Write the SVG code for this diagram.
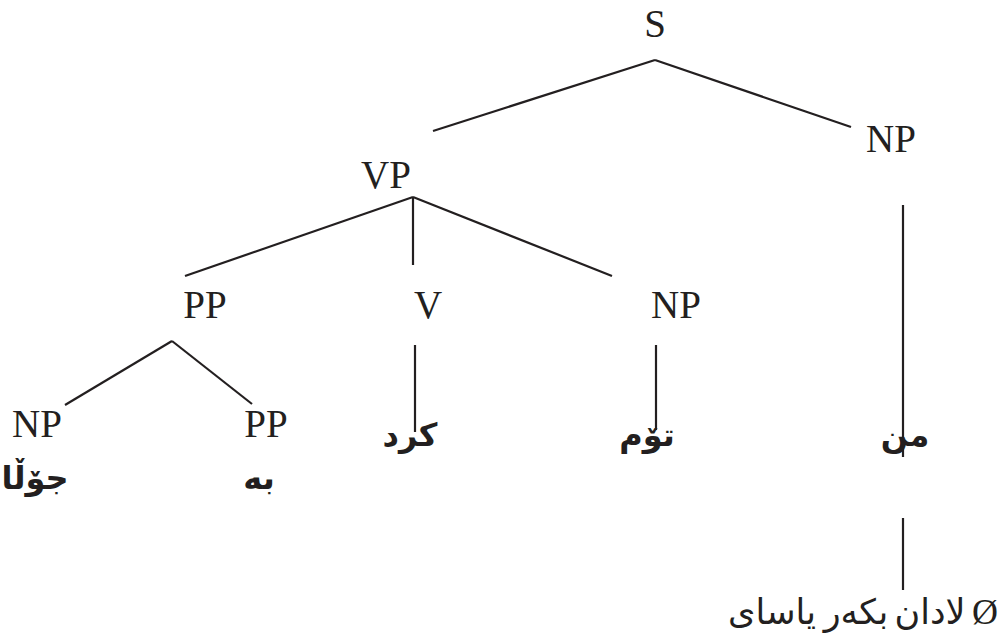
<svg xmlns="http://www.w3.org/2000/svg" width="1006" height="636" viewBox="0 0 1006 636">
<style>
.lbl{font-family:"Liberation Serif","Times New Roman",serif;font-size:39px;fill:#231f20;text-anchor:middle}
.ku{font-family:"DejaVu Sans","Noto Sans",sans-serif;font-weight:bold;font-size:32px;fill:#231f20;text-anchor:middle}
.kb{font-family:"DejaVu Sans","Noto Sans",sans-serif;font-size:35px;fill:#231f20;text-anchor:middle}
.lat{font-family:"Liberation Serif","Times New Roman",serif;font-size:36px;fill:#231f20;text-anchor:middle}
.e{stroke:#231f20;stroke-width:2.2;fill:none;stroke-linecap:butt}
</style>
<rect width="1006" height="636" fill="#ffffff"/>
<g id="edges">
<line class="e" x1="655" y1="60" x2="433" y2="131"/>
<line class="e" x1="655" y1="60" x2="851" y2="127"/>
<line class="e" x1="413" y1="197" x2="185" y2="276"/>
<line class="e" x1="413" y1="197" x2="413" y2="265"/>
<line class="e" x1="413" y1="197" x2="612" y2="276"/>
<line class="e" x1="172" y1="341" x2="65" y2="405"/>
<line class="e" x1="172" y1="341" x2="252" y2="404"/>
<line class="e" x1="415" y1="345" x2="415" y2="432"/>
<line class="e" x1="656" y1="345" x2="656" y2="430"/>
<line class="e" x1="903" y1="205" x2="903" y2="457"/>
<line class="e" x1="903" y1="518" x2="903" y2="590"/>
</g>
<g id="n-S"><text class="lbl" x="655" y="37">S</text></g>
<g id="n-NP1"><text class="lbl" x="891" y="152">NP</text></g>
<g id="n-VP"><text class="lbl" x="386" y="188">VP</text></g>
<g id="n-PP1"><text class="lbl" x="205" y="318">PP</text></g>
<g id="n-V"><text class="lbl" x="428" y="318">V</text></g>
<g id="n-NP2"><text class="lbl" x="676" y="318">NP</text></g>
<g id="n-NP3"><text class="lbl" x="37" y="437">NP</text></g>
<g id="n-PP2"><text class="lbl" x="266" y="437">PP</text></g>
<g id="n-kurd"><text class="ku" x="410" y="446">کرد</text></g>
<g id="n-tom"><text class="ku" x="647" y="446">تۆم</text></g>
<g id="n-min"><text class="ku" x="905" y="446">من</text></g>
<g id="n-jola"><text class="ku" x="35" y="489">جۆڵا</text></g>
<g id="n-be"><text class="ku" x="259" y="489">بە</text></g>
<g id="n-rule">
<text class="kb" x="772" y="624">یاسای</text>
<text class="kb" x="856" y="624">بکەر</text>
<text class="kb" x="930" y="624">لادان</text>
<text class="lat" x="985" y="624">Ø</text>
</g>
</svg>
